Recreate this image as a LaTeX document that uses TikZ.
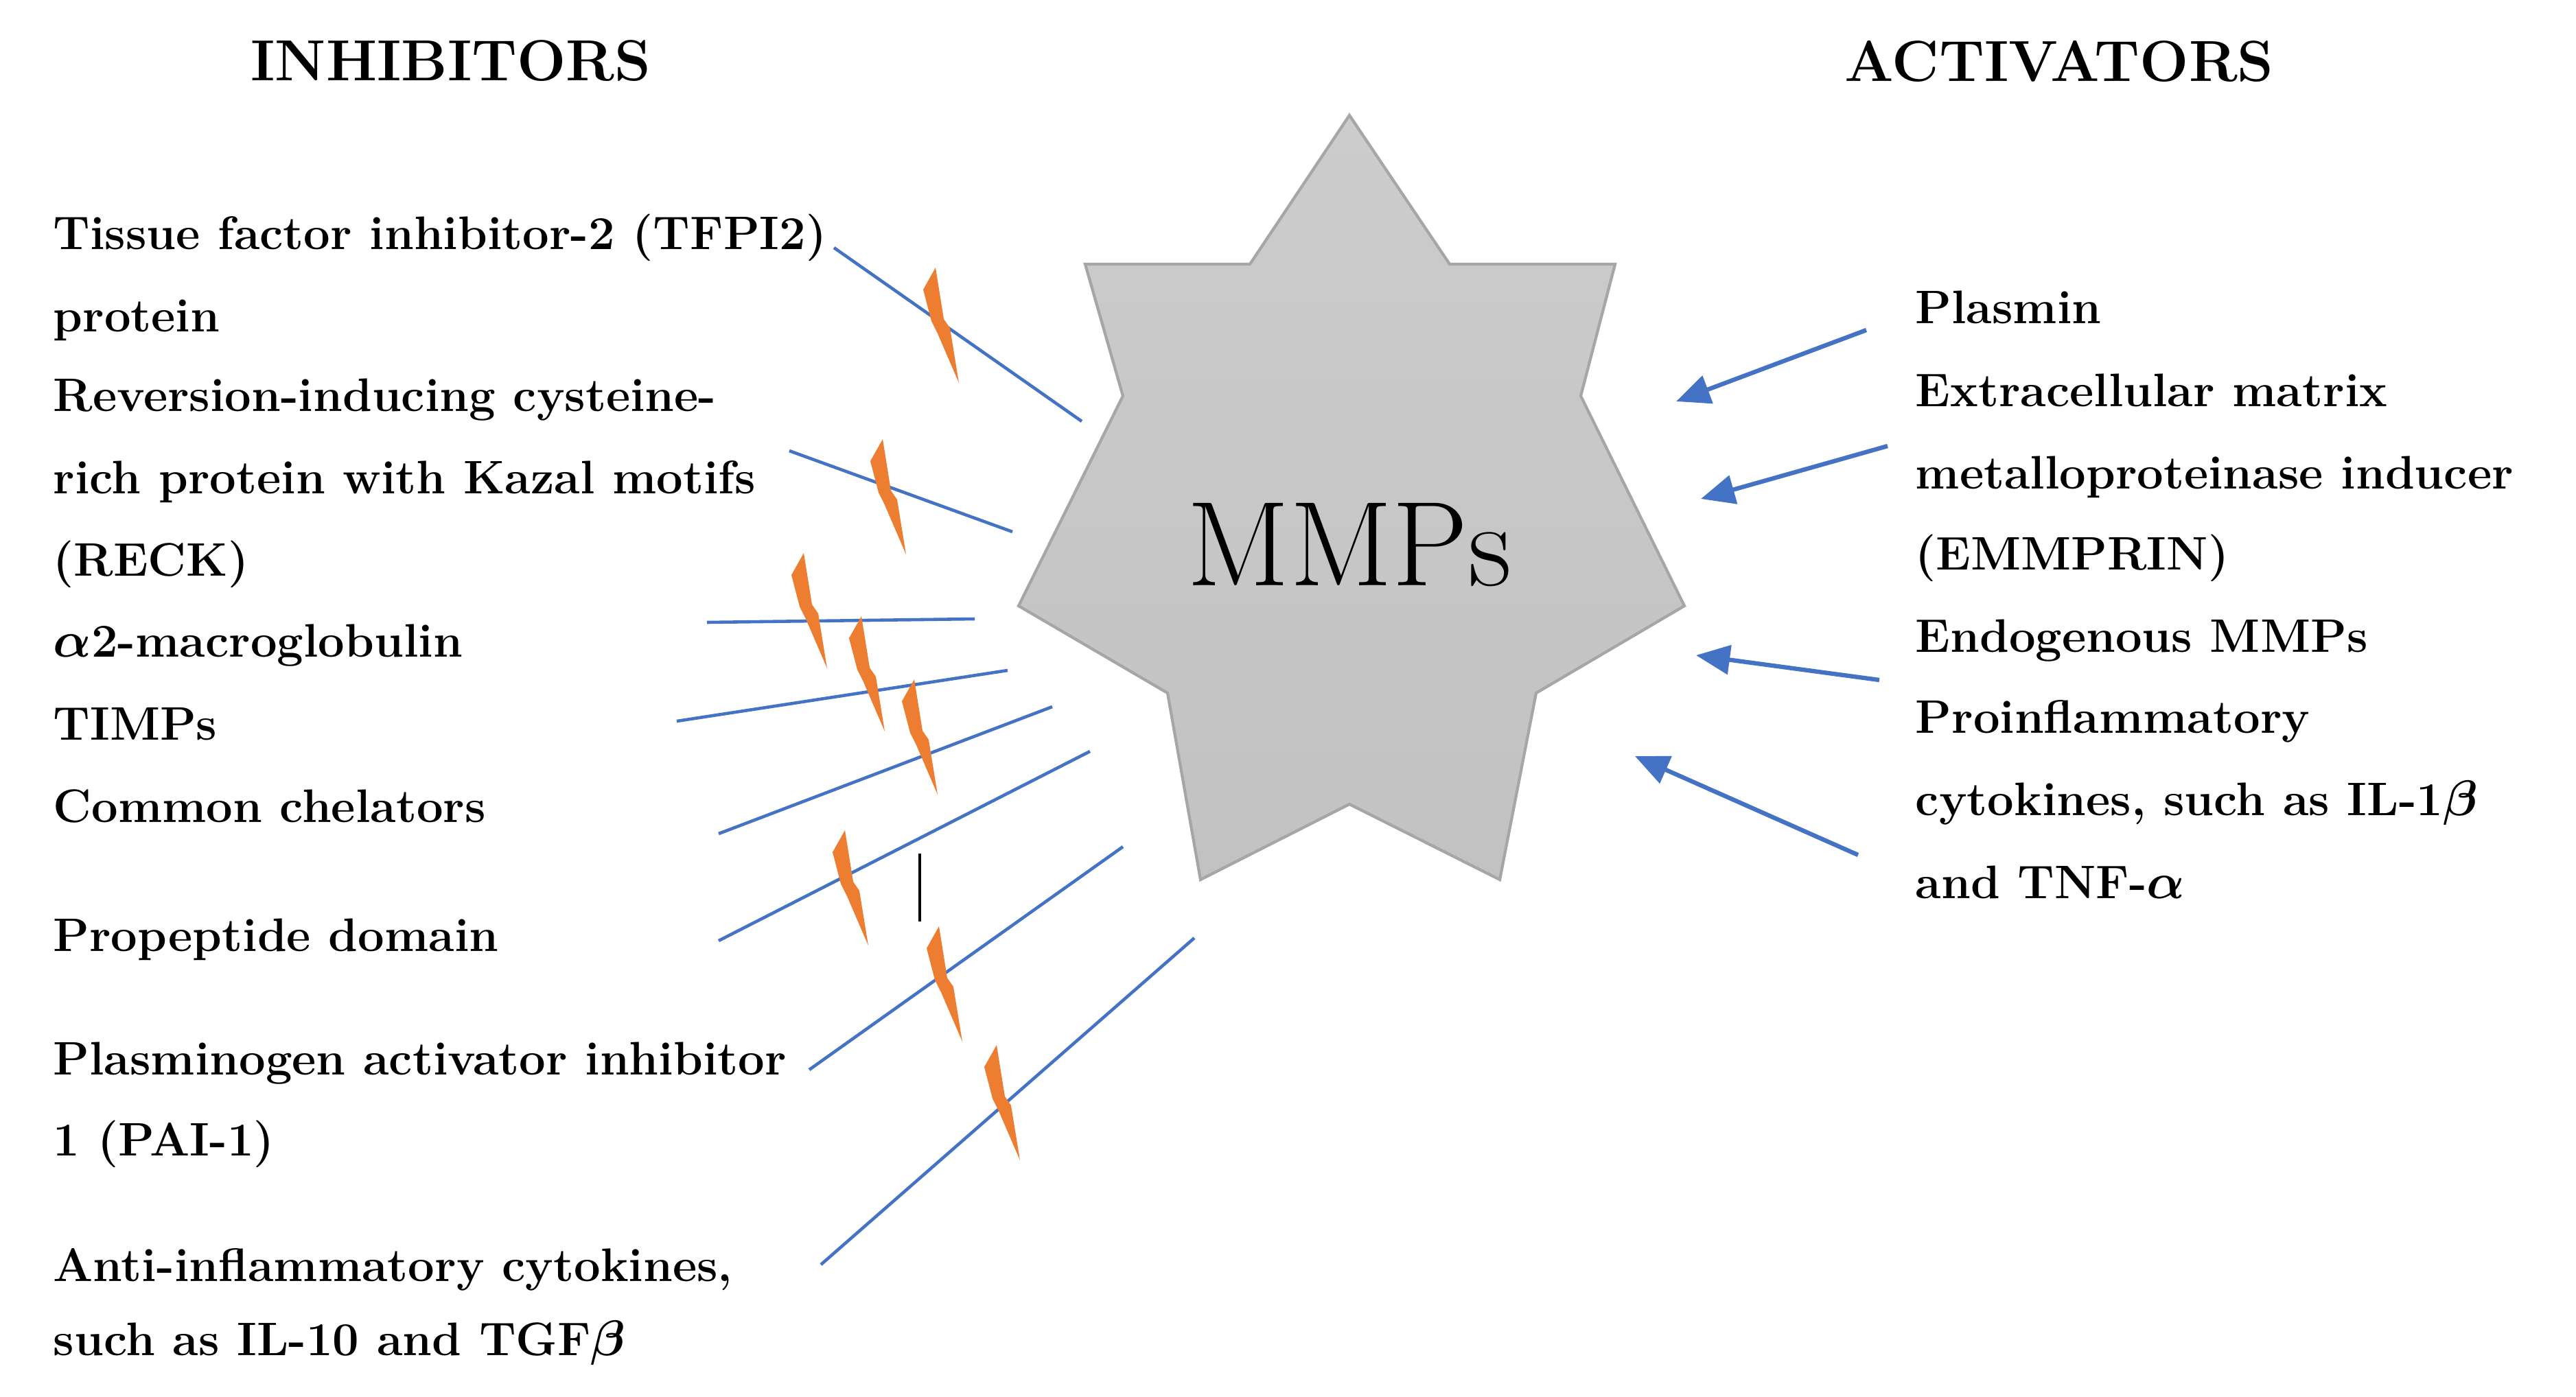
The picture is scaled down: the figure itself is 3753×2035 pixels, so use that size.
\documentclass[tikz,border=0pt]{standalone}
\usepackage{amsmath}
\usepackage{fontspec}
\usetikzlibrary{arrows.meta}
\definecolor{lblue}{HTML}{4472C4}
\definecolor{bolto}{HTML}{ED7D31}
\begin{document}
\begin{tikzpicture}[x=0.01cm,y=-0.01cm,
  lab/.style={anchor=mid west,inner sep=0pt,font=\fontsize{19.5}{21}\selectfont\bfseries},
  ttl/.style={inner sep=0pt,font=\fontsize{24}{26}\selectfont\bfseries},
  inh/.style={draw=lblue,line width=1.3pt},
  act/.style={draw=lblue,line width=1.8pt,-{Triangle[length=14pt,width=12pt]}},
  bolt/.pic={\fill[bolto] (0,0)--(12,75)--(21,88)--(34,168)--(3,96)--(-6,78)--(-18,32)--cycle;}]
\useasboundingbox (0,0) rectangle (3753,2035);
% star
\shade[top color=gray!40,bottom color=gray!48,draw=gray!70,line width=1.2pt]
 (1966,168)--(2112,385)--(2353,385)--(2303,577)--(2454,883)--(2238,1010)--(2185,1282)
 --(1966,1172)--(1749,1282)--(1701,1010)--(1484,883)--(1636,577)--(1581,385)--(1821,385)--cycle;
\node[inner sep=0pt,font=\fontsize{50}{52}\selectfont] (mmp) at (1966,794) {MMPs};
\node[ttl] (inht) at (657,89) {INHIBITORS};
\node[ttl] (actt) at (3000,89) {ACTIVATORS};
% left labels
\node[lab] (l1) at (77,356) {Tissue factor inhibitor-2 (TFPI2)};
\node[lab] (l1b) at (77,476) {protein};
\node[lab] (l2) at (77,592) {Reversion-inducing cysteine-};
\node[lab] (l2b) at (77,712) {rich protein with Kazal motifs};
\node[lab] (l2c) at (77,832) {(RECK)};
\node[lab] (l3) at (77,950) {$\boldsymbol{\alpha}$2-macroglobulin};
\node[lab] (l4) at (77,1071) {TIMPs};
\node[lab] (l5) at (77,1191) {Common chelators};
\node[lab] (l6) at (77,1379) {Propeptide domain};
\node[lab] (l7) at (77,1559) {Plasminogen activator inhibitor};
\node[lab] (l7b) at (77,1677) {1 (PAI-1)};
\node[lab] (l8) at (77,1860) {Anti-inflammatory cytokines,};
\node[lab] (l8b) at (77,1968) {such as IL-10 and TGF$\boldsymbol{\beta}$};
% right labels
\node[lab] (r1) at (2790,464) {Plasmin};
\node[lab] (r2) at (2790,585) {Extracellular matrix};
\node[lab] (r2b) at (2790,705) {metalloproteinase inducer};
\node[lab] (r2c) at (2790,823) {(EMMPRIN)};
\node[lab] (r3) at (2790,943) {Endogenous MMPs};
\node[lab] (r4) at (2790,1061) {Proinflammatory};
\node[lab] (r4b) at (2790,1181) {cytokines, such as IL-1$\boldsymbol{\beta}$};
\node[lab] (r4c) at (2790,1302) {and TNF-$\boldsymbol{\alpha}$};
% inhibitor lines
\coordinate (a1) at (1215,361); \coordinate (b1) at (1576,614);
\coordinate (a2) at (1150,657); \coordinate (b2) at (1475,775);
\coordinate (a3) at (1030,907); \coordinate (b3) at (1420,902);
\coordinate (a4) at (986,1051); \coordinate (b4) at (1468,977);
\coordinate (a5) at (1047,1215); \coordinate (b5) at (1533,1030);
\coordinate (a6) at (1047,1371); \coordinate (b6) at (1588,1095);
\coordinate (a7) at (1179,1559); \coordinate (b7) at (1636,1234);
\coordinate (a8) at (1196,1843); \coordinate (b8) at (1740,1367);
\foreach \i in {1,...,8} \draw[inh] (a\i) -- (b\i);
\coordinate (k1) at (1340,1244); \coordinate (k2) at (1340,1343);
\draw[line width=1.2pt] (k1) -- (k2);
% bolts
\foreach \x/\y in {1363/390,1286/640,1171/806,1255/898,1332/990,1231/1210,1368/1350,1452/1523}
  \pic at (\x,\y) {bolt};
% activator arrows
\coordinate (c1) at (2719,481); \coordinate (d1) at (2442,585);
\coordinate (c2) at (2750,650); \coordinate (d2) at (2478,727);
\coordinate (c3) at (2738,991); \coordinate (d3) at (2471,955);
\coordinate (c4) at (2707,1246); \coordinate (d4) at (2382,1102);
\foreach \i in {1,...,4} \draw[act] (c\i) -- (d\i);
\end{tikzpicture}
\end{document}
